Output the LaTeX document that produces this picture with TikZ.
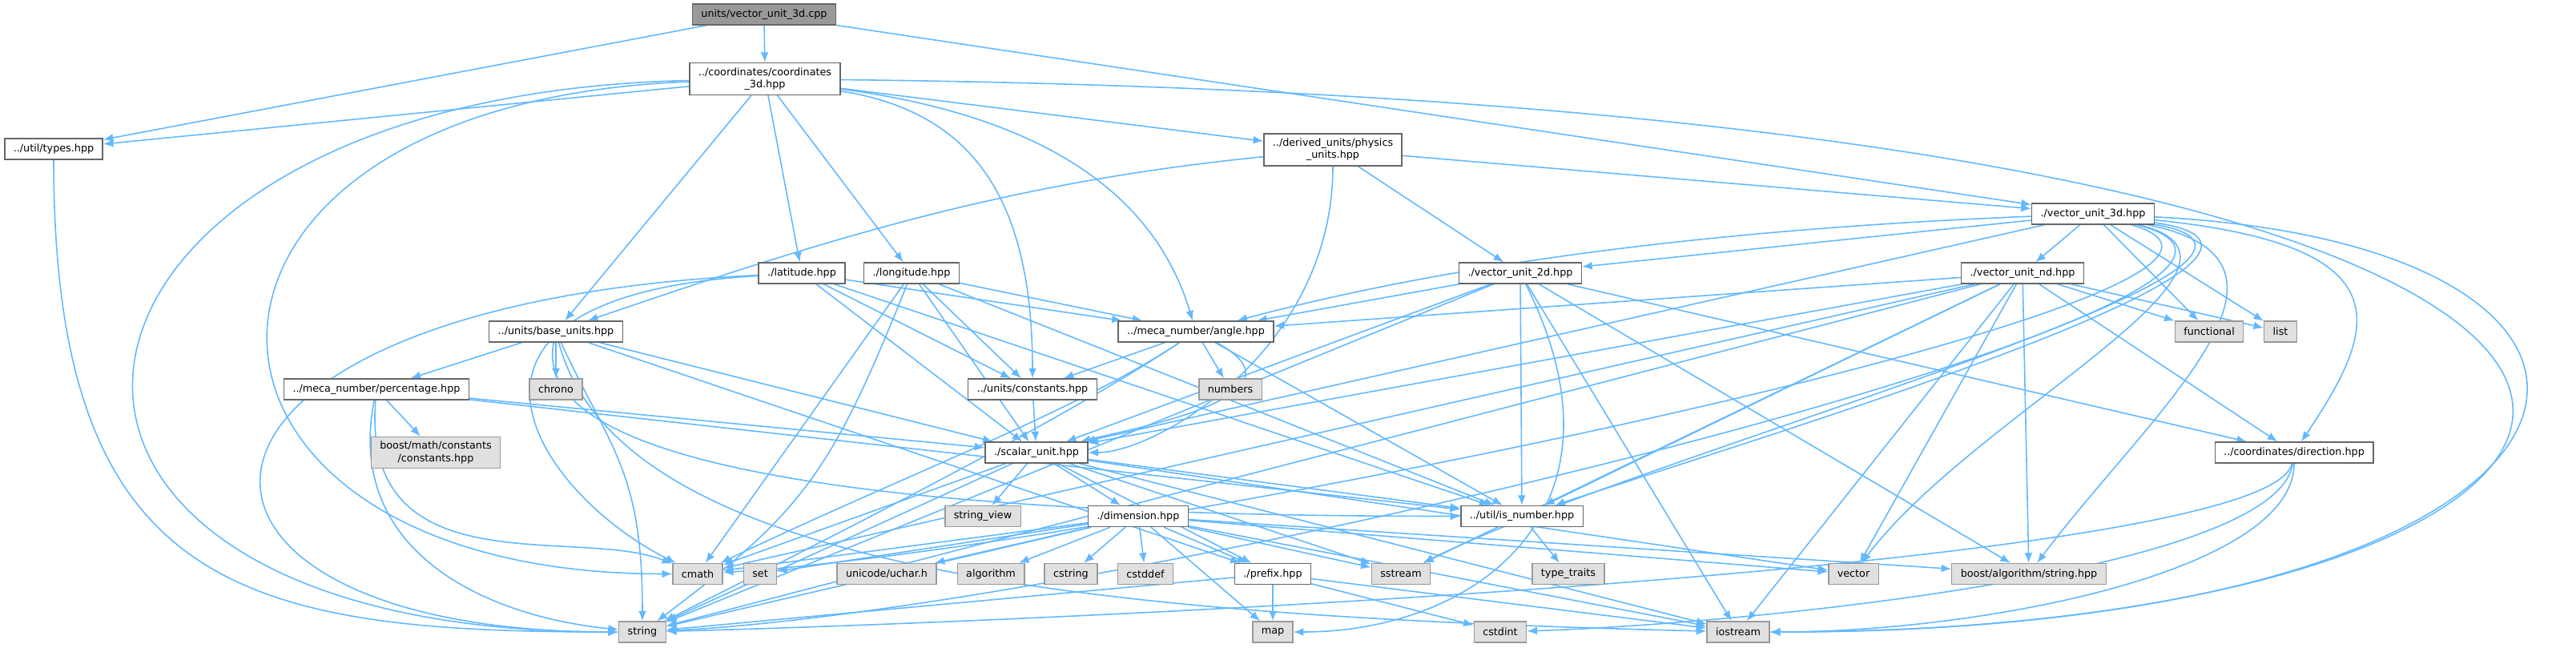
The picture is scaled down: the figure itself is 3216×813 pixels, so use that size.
\documentclass[tikz,border=0pt]{standalone}
\usepackage{fontspec}
\setmainfont{DejaVu Sans}
\usetikzlibrary{arrows.meta}
\definecolor{edgeblue}{HTML}{63B8FF}
\definecolor{nodeline}{HTML}{666666}
\definecolor{sysfill}{HTML}{E0E0E0}
\definecolor{sysline}{HTML}{999999}
\definecolor{topfill}{HTML}{999999}
\pgfdeclarelayer{bg}
\pgfsetlayers{bg,main}

\begin{document}
\begin{tikzpicture}[x=0.1mm, y=-0.1mm, font=\fontsize{3.63}{4.33}\selectfont,
    main/.style = {draw=nodeline, fill=white, line width=0.4pt, inner xsep=1.1mm, inner ysep=0.6mm, minimum height=2.6mm, align=center},
    sys/.style = {main, draw=sysline, fill=sysfill},
    top/.style = {main, fill=topfill},
    dep/.style = {color=edgeblue, line width=0.45pt, -{Latex[length=1.25mm,width=1mm]}}]
      \useasboundingbox (0,0) rectangle (3216,813);

      \node[top]  (cpp)        at (954,18)     {units/vector\_unit\_3d.cpp};
      \node[main] (coord3d)    at (955,98.5)   {../coordinates/coordinates\\\_3d.hpp};
      \node[main] (types)      at (67,186)     {../util/types.hpp};
      \node[main] (physunits)  at (1664,187)   {../derived\_units/physics\\\_units.hpp};
      \node[main] (vec3d)      at (2613,267)   {./vector\_unit\_3d.hpp};
      \node[main] (latitude)   at (1001,341)   {./latitude.hpp};
      \node[main] (longitude)  at (1138,341)   {./longitude.hpp};
      \node[main] (vec2d)      at (1898,341)   {./vector\_unit\_2d.hpp};
      \node[main] (vecnd)      at (2525,341)   {./vector\_unit\_nd.hpp};
      \node[main] (baseunits)  at (694,414)    {../units/base\_units.hpp};
      \node[main] (angle)      at (1493,414)   {../meca\_number/angle.hpp};
      \node[sys]  (functional) at (2758,414)   {functional};
      \node[sys]  (list)       at (2847,414)   {list};
      \node[main] (percentage) at (470,486)    {../meca\_number/percentage.hpp};
      \node[sys]  (chrono)     at (694,486)    {chrono};
      \node[main] (constants)  at (1289,486)   {../units/constants.hpp};
      \node[sys]  (numbers)    at (1536,486)   {numbers};
      \node[sys]  (boostconst) at (544,565)    {boost/math/constants\\/constants.hpp};
      \node[main] (scalar)     at (1294,565)   {./scalar\_unit.hpp};
      \node[main] (direction)  at (2864,565)   {../coordinates/direction.hpp};
      \node[sys]  (stringview) at (1227,644.5) {string\_view};
      \node[main] (dimension)  at (1421,644.5) {./dimension.hpp};
      \node[main] (isnumber)   at (1900,644.5) {../util/is\_number.hpp};
      \node[sys]  (cmath)      at (871,716.5)  {cmath};
      \node[sys]  (set)        at (949,716.5)  {set};
      \node[sys]  (uchar)      at (1107,716.5) {unicode/uchar.h};
      \node[sys]  (algorithm)  at (1237,716.5) {algorithm};
      \node[sys]  (cstring)    at (1337,716.5) {cstring};
      \node[sys]  (cstddef)    at (1430,716.5) {cstddef};
      \node[main] (prefix)     at (1589,716.5) {./prefix.hpp};
      \node[sys]  (sstream)    at (1749,716.5) {sstream};
      \node[sys]  (typetraits) at (1958,716.5) {type\_traits};
      \node[sys]  (vector)     at (2314,716.5) {vector};
      \node[sys]  (booststring) at (2533,716.5) {boost/algorithm/string.hpp};
      \node[sys]  (string)     at (802,789)    {string};
      \node[sys]  (map)        at (1589,789)   {map};
      \node[sys]  (cstdint)    at (1873,789)   {cstdint};
      \node[sys]  (iostream)   at (2170,789)   {iostream};

      \begin{pgfonlayer}{bg}
      % straight includes
      \path[dep]
      (cpp)        edge (coord3d)
      (cpp)        edge (types)
      (cpp)        edge (vec3d)
      (coord3d)    edge (types)
      (coord3d)    edge (baseunits)
      (coord3d)    edge (latitude)
      (coord3d)    edge (longitude)
      (coord3d)    edge (physunits)
      (physunits)  edge (vec2d)
      (physunits)  edge (vec3d)
      (latitude)   edge (angle)
      (latitude)   edge (constants)
      (latitude)   edge (scalar)
      (latitude)   edge (isnumber)
      (longitude)  edge (angle)
      (longitude)  edge (constants)
      (longitude)  edge (scalar)
      (longitude)  edge (isnumber)
      (longitude)  edge (cmath)
      (baseunits)  edge (percentage)
      (baseunits)  edge (chrono)
      (baseunits)  edge (scalar)
      (baseunits)  edge (prefix)
      (percentage) edge (boostconst)
      (percentage) edge (scalar)
      (percentage) edge (isnumber)
      (constants)  edge (scalar)
      (angle)      edge (constants)
      (angle)      edge (numbers)
      (angle)      edge (isnumber)
      (scalar)     edge (stringview)
      (scalar)     edge (dimension)
      (scalar)     edge (prefix)
      (scalar)     edge (isnumber)
      (scalar)     edge (sstream)
      (scalar)     edge (vector)
      (scalar)     edge (iostream)
      (scalar)     edge (string)
      (scalar)     edge (cmath)
      (dimension)  edge (set)
      (dimension)  edge (uchar)
      (dimension)  edge (algorithm)
      (dimension)  edge (cstring)
      (dimension)  edge (cstddef)
      (dimension)  edge (prefix)
      (dimension)  edge (sstream)
      (dimension)  edge (map)
      (dimension)  edge (vector)
      (dimension)  edge (booststring)
      (dimension)  edge (iostream)
      (dimension)  edge (string)
      (dimension)  edge (cmath)
      (prefix)     edge (map)
      (prefix)     edge (string)
      (prefix)     edge (cstdint)
      (prefix)     edge (iostream)
      (isnumber)   edge (typetraits)
      (vec2d)      edge (angle)
      (vec2d)      edge (scalar)
      (vec2d)      edge (isnumber)
      (vec2d)      edge (direction)
      (vec2d)      edge (booststring)
      (vec2d)      edge (iostream)
      (vec2d)      edge (string)
      (vecnd)      edge (angle)
      (vecnd)      edge (scalar)
      (vecnd)      edge (isnumber)
      (vecnd)      edge (direction)
      (vecnd)      edge (functional)
      (vecnd)      edge (list)
      (vecnd)      edge (vector)
      (vecnd)      edge (booststring)
      (vecnd)      edge (sstream)
      (vecnd)      edge (iostream)
      (vecnd)      edge (string)
      (vecnd)      edge (cmath)
      (vec3d)      edge (vec2d)
      (vec3d)      edge (vecnd)
      (vec3d)      edge (scalar)
      (vec3d)      edge (functional)
      (vec3d)      edge (list);

      % curved includes
      \draw[dep] (coord3d) .. controls +(300,40) and +(-60,-200) .. (angle);
      \draw[dep] (coord3d) .. controls +(250,40) and +(0,-250) .. (constants);
      \draw[dep] (coord3d) .. controls +(-950,20) and +(-900,0) .. (string);
      \draw[dep] (coord3d) .. controls +(-800,30) and +(-700,0) .. (cmath);
      \draw[dep] (coord3d) .. controls +(2800,30) and +(1300,0) .. (iostream);
      \draw[dep] (types) .. controls +(0,550) and +(-500,0) .. (string);
      \draw[dep] (physunits) .. controls +(-400,40) and +(350,-120) .. (baseunits);
      \draw[dep] (physunits) .. controls +(0,250) and +(150,0) .. (scalar);
      \draw[dep] (latitude) .. controls +(-850,40) and +(-650,0) .. (string);
      \draw[dep] (latitude) .. controls +(-500,30) and +(-200,-100) .. (cmath);
      \draw[dep] (longitude) .. controls +(-100,250) and +(200,-150) .. (string);
      \draw[dep] (baseunits) .. controls +(70,150) and +(0,-200) .. (string);
      \draw[dep] (baseunits) .. controls +(-40,200) and +(-600,0) .. (isnumber);
      \draw[dep] (baseunits) .. controls +(80,300) and +(-800,-20) .. (iostream);
      \draw[dep] (percentage) .. controls +(-40,200) and +(-200,-20) .. (string);
      \draw[dep] (percentage) .. controls +(-20,250) and +(-150,-60) .. (cmath);
      \draw[dep] (angle) .. controls +(150,80) and +(120,-30) .. (scalar);
      \draw[dep] (angle) .. controls +(-150,100) and +(300,-150) .. (string);
      \draw[dep] (angle) .. controls +(-150,100) and +(250,-120) .. (cmath);
      \draw[dep] (vec2d) .. controls +(150,300) and +(250,0) .. (map);
      \draw[dep] (vec3d) .. controls +(-500,20) and +(300,-80) .. (angle);
      \draw[dep] (vec3d) .. controls +(400,40) and +(100,-150) .. (direction);
      \draw[dep] (vec3d) .. controls +(350,50) and +(300,-100) .. (isnumber);
      \draw[dep] (vec3d) .. controls +(300,60) and +(150,-200) .. (booststring);
      \draw[dep] (vec3d) .. controls +(250,60) and +(150,-200) .. (vector);
      \draw[dep] (vec3d) .. controls +(350,60) and +(300,-150) .. (sstream);
      \draw[dep] (vec3d) .. controls +(800,40) and +(1150,0) .. (iostream);
      \draw[dep] (vec3d) .. controls +(400,100) and +(600,-30) .. (string);
      \draw[dep] (vec3d) .. controls +(350,100) and +(500,-30) .. (cmath);
      \draw[dep] (direction) .. controls +(-30,150) and +(400,-10) .. (string);
      \draw[dep] (direction) .. controls +(-20,150) and +(300,-10) .. (cstdint);
      \draw[dep] (direction) .. controls +(0,150) and +(300,0) .. (iostream);
      \end{pgfonlayer}

    \end{tikzpicture}
\end{document}
